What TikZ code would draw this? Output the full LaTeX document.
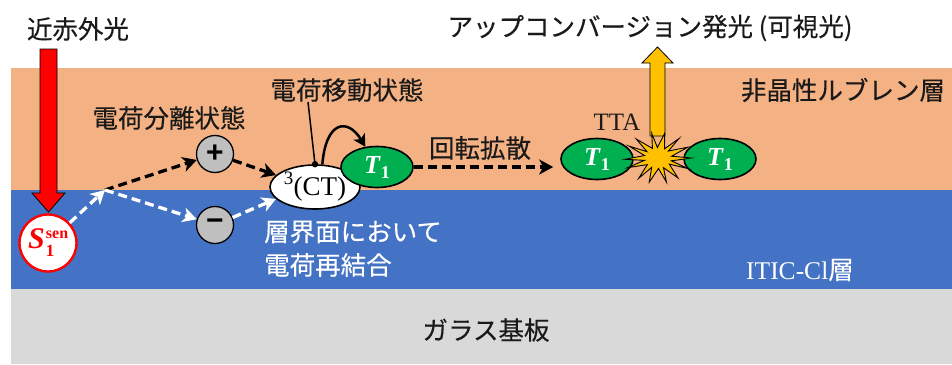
\documentclass[tikz,border=0pt]{standalone}
\usepackage{fontspec}
\setmainfont{Liberation Serif}
\newfontfamily\jp[FakeBold=0.3]{Noto Sans CJK JP}
\newfontfamily\lsans{Liberation Sans}
\usetikzlibrary{arrows.meta,calc,shapes.geometric}
\definecolor{layO}{HTML}{F4B183}
\definecolor{layB}{HTML}{4472C4}
\definecolor{layG}{HTML}{D9D9D9}
\definecolor{tgreen}{HTML}{00B050}
\definecolor{starY}{HTML}{FFC000}
\definecolor{chg}{HTML}{BFBFBF}
\definecolor{txt}{HTML}{1A1A1A}
\newcommand{\tone}{\textbf{\textit{T}}\raisebox{-5pt}{\fontsize{18}{18}\selectfont\textbf{1}}}
\begin{document}
\begin{tikzpicture}[x=1pt,y=-1pt,
  jpl/.style={font=\jp\fontsize{25.5}{30}\selectfont, text=txt, inner sep=0pt},
  jpw/.style={jpl, text=white},
  darr/.style={line width=3.3pt, dash pattern=on 9pt off 5pt, -{Stealth[length=14pt,width=15pt,inset=4pt]}},
  trip/.style={ellipse, draw, line width=1.6pt, fill=tgreen, minimum width=72pt, minimum height=41pt, inner sep=0pt, text=white, font=\fontsize{26}{28}\selectfont},
  chgc/.style={circle, draw, line width=1.3pt, fill=chg, minimum size=37pt, inner sep=0pt, font=\lsans\fontsize{30}{30}\selectfont},
  blockarr/.style={draw=black, line width=0.8pt}
]
\useasboundingbox (0,0) rectangle (952,364);
% layers
\fill[layO] (11,68) rectangle (952,190);
\fill[layB] (11,190) rectangle (952,289);
\fill[layG] (11,289) rectangle (952,364);

% labels
\node[jpl] (nir) at (78,29) {近赤外光};
\node[jpl] (csep) at (169,118) {電荷分離状態};
\node[jpl] (ctlab) at (347,90) {電荷移動状態};
\node[jpl] (rot) at (480,148) {回転拡散};
\node[jpl] (upc) at (650,28) {アップコンバージョン発光 (可視光)};
\node[jpl] (rub) at (843,90) {非晶性ルブレン層};
\node[jpw, anchor=west] (rec1) at (264,232) {層界面において};
\node[jpw, anchor=west] (rec2) at (264,265) {電荷再結合};
\node[inner sep=0pt, text=white, font=\fontsize{25.5}{28}\selectfont] (itic) at (800,270) {ITIC-Cl{\jp 層}};
\node[jpl] (glass) at (486,330) {ガラス基板};
\node[inner sep=0pt, text=txt, font=\fontsize{25}{28}\selectfont] (tta) at (617,122) {TTA};

% red arrow
\draw[blockarr, fill=red] (40,49) -- (57,49) -- (57,193) -- (65,193) -- (48.5,212) -- (32,193) -- (40,193) -- cycle;
% yellow arrow
\draw[blockarr, fill=starY] (650,136) -- (665,136) -- (665,63) -- (673,63) -- (657.5,47) -- (642,63) -- (650,63) -- cycle;

% S1sen
\node[circle, draw=red, line width=2.4pt, fill=white, minimum size=57pt, inner sep=0pt, text=red, font=\bfseries\fontsize{30}{30}\selectfont] (s) at (48,243) {\textit{S}\kern1pt\rlap{\raisebox{10pt}{\fontsize{16}{16}\selectfont sen}}\raisebox{-8pt}{\fontsize{17}{17}\selectfont 1}\phantom{\fontsize{16}{16}\selectfont se}};

% charges
\node[chgc] (plus) at (215,154) {\textbf{+}};
\node[chgc] (minus) at (215,225) {\textbf{−}};

% CT
\node[ellipse, draw, line width=1.6pt, fill=white, minimum width=90pt, minimum height=44pt, inner sep=0pt, font=\fontsize{27}{28}\selectfont] (ct) at (315,187) {\raisebox{2pt}{\textsuperscript{3}}(CT)};

% triplets
\node[trip] (t1a) at (377,167) {\tone};
\node[trip] (t1b) at (597,159) {\tone};
\node[trip] (t1c) at (720,159) {\tone};

% star
\begin{scope}[shift={(658,158)}]
\draw[fill=starY, line width=0.9pt, line join=miter]
  (0:33 and 25) \foreach \i [evaluate=\i as \r using {mod(\i,2)==0 ? 1 : 0.42}] in {1,...,27} { -- ({\i*360/28+3*sin(\i*97)}:{\r*33} and {\r*25}) } -- cycle;
\end{scope}

% connectors
\coordinate (j) at (105,190);
\draw[darr, white] (s) -- (j);
\draw[darr, black] (j) -- (plus);
\draw[darr, white] (j) -- (minus);
\draw[darr, black] (plus) -- (ct.163);
\draw[darr, white] (minus) -- (ct.197);
\draw[darr, black] (t1a.east) -- ([xshift=-7pt]t1b.west |- t1a.east);

% CT label pointer
\draw[line width=1.5pt] ([xshift=-39pt]ctlab.south) -- (ct.north);
\fill (ct.north) circle (3.2pt);

% curved arrow CT -> T1
\draw[line width=2.5pt, -{Stealth[length=12pt,width=13pt,inset=3pt]}] (ct.72) .. controls (326,120) and (348,118) .. (t1a.120);
\end{tikzpicture}
\end{document}
